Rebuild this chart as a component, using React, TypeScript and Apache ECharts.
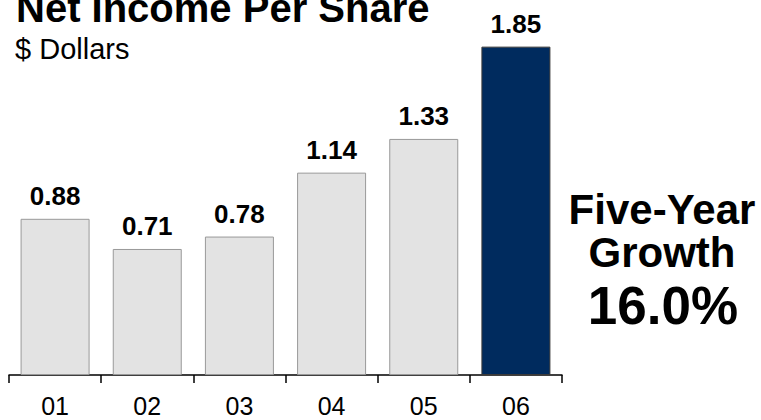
import React, { useEffect, useRef } from "react";
import * as echarts from "echarts";

const categories = ["01", "02", "03", "04", "05", "06"];
const values = [0.88, 0.71, 0.78, 1.14, 1.33, 1.85];
const highlightIndex = 5;
const titleText = "Net Income Per Share";
const subtitleText = "$ Dollars";
const growthLines = ["Five-Year", "Growth", "16.0%"];

const FONT = "'Liberation Sans', Arial, Helvetica, sans-serif";

export default function App() {
  const ref = useRef<HTMLDivElement>(null);
  useEffect(() => {
    if (!ref.current) return;
    const chart = echarts.init(ref.current, undefined, { renderer: "svg" });
    const data = values.map((v, i) =>
      i === highlightIndex
        ? { value: v, itemStyle: { color: "#002b5e", borderColor: "#3a3a3a", borderWidth: 1 } }
        : { value: v }
    );
    chart.setOption({
      animation: false,
      backgroundColor: "#ffffff",
      textStyle: { fontFamily: FONT },
      grid: { left: 9, right: 199, top: 20, bottom: 45 },
      xAxis: {
        type: "category",
        data: categories,
        boundaryGap: true,
        axisLine: { show: true, lineStyle: { color: "#000", width: 1.5 } },
        axisTick: { show: true, length: 8, lineStyle: { color: "#000", width: 1.5 } },
        axisLabel: { color: "#000", fontSize: 25, margin: 18, fontFamily: FONT },
      },
      yAxis: { type: "value", min: 0, max: 2, show: false, splitLine: { show: false } },
      series: [
        {
          type: "bar",
          data,
          barWidth: 69,
          itemStyle: { color: "#e3e3e3", borderColor: "#999999", borderWidth: 1 },
          label: {
            show: true,
            position: "top",
            distance: 10,
            formatter: (p: any) => p.value.toFixed(2),
            color: "#000",
            fontSize: 26,
            fontWeight: "bold",
            fontFamily: FONT,
          },
        },
      ],
      graphic: [
        {
          type: "text",
          x: 16,
          y: 8,
          style: { text: titleText, fontSize: 40, fontWeight: "bold", fill: "#000", fontFamily: FONT, verticalAlign: "middle", align: "left" },
        },
        {
          type: "text",
          x: 15,
          y: 49,
          style: { text: subtitleText, fontSize: 29, fill: "#000", fontFamily: FONT, verticalAlign: "middle", align: "left" },
        },
        {
          type: "text",
          x: 662,
          y: 209,
          style: { text: growthLines[0], fontSize: 42, fontWeight: "bold", fill: "#000", fontFamily: FONT, verticalAlign: "middle", align: "center" },
        },
        {
          type: "text",
          x: 662,
          y: 252,
          style: { text: growthLines[1], fontSize: 42, fontWeight: "bold", fill: "#000", fontFamily: FONT, verticalAlign: "middle", align: "center" },
        },
        {
          type: "text",
          x: 663,
          y: 305,
          style: { text: growthLines[2], fontSize: 53, fontWeight: "bold", fill: "#000", fontFamily: FONT, verticalAlign: "middle", align: "center" },
        },
      ],
    });
    return () => chart.dispose();
  }, []);
  return <div ref={ref} style={{ position: "fixed", left: 0, top: 0, width: 761, height: 420 }} />;
}
